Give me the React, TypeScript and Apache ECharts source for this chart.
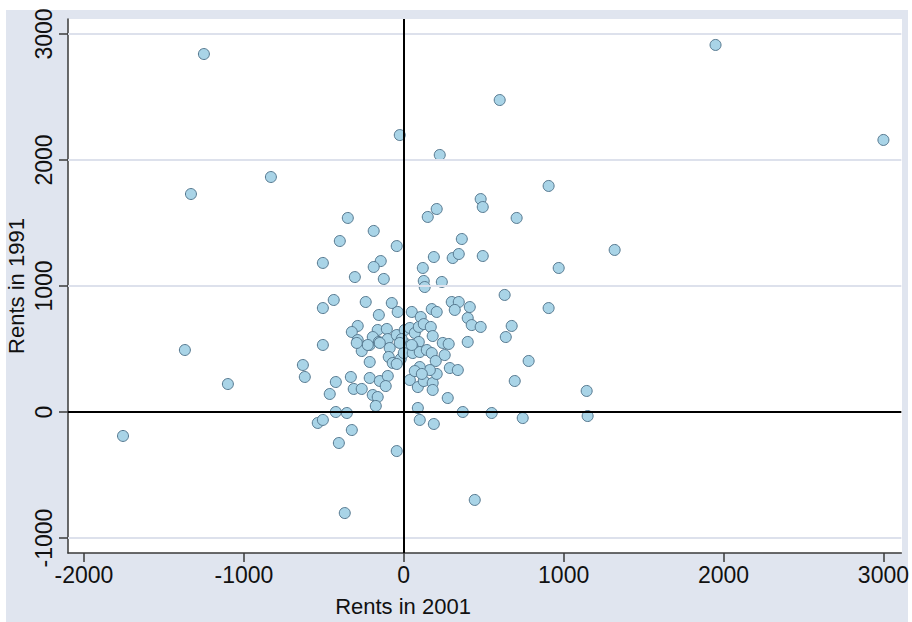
import React, { useEffect, useRef } from "react";
import * as echarts from "echarts";

// Rents in 2001 (x) and Rents in 1991 (y)
const rents2001 = [
  1950, 3000, -1250, 600, -25, 225, -1331, -831, 906, 481,
  494, 706, -350, 150, 206, -188, -400, 363, 1319, -44,
  188, 306, 344, 494, -506, -144, -188, 969, 119, -306,
  -125, 238, 125, 131, 631, -438, -506, -238, -75, 300,
  344, 413, 906, 319, -38, 50, 175, 206, 106, -156,
  400, 425, 481, 675, 638, 400, -1369, -1100, -1756, 444,
  -369, -44, -406, -325, -538, -506, -425, -356, 88, 100,
  188, 369, 550, 744, 1150, 1144, 694, 781, 275, -631,
  -619, -506, -425, -463, -331, -313, -263, -213, -150, -100,
  -113, -194, -163, -175, 38, 88, 125, 181, 181, 206,
  -288, -325, -288, -163, -106, -213, -194, -156, -100, -88,
  -44, 6, 38, 69, 94, 125, 169, 181, 244, 281,
  94, 56, 13, -13, -94, -69, -19, 0, 56, 100,
  144, 175, 200, 163, 100, 69, 113, 256, 288, 338,
  -263, -225, -294, -25, -213, -44, -150, 50,
];
const rents1991 = [
  2913, 2159, 2841, 2476, 2198, 2040, 1730, 1865, 1794, 1690,
  1627, 1540, 1540, 1548, 1611, 1437, 1357, 1373, 1286, 1317,
  1230, 1222, 1254, 1238, 1183, 1198, 1151, 1143, 1143, 1071,
  1056, 1032, 1040, 992, 929, 889, 825, 873, 865, 873,
  873, 833, 825, 810, 794, 794, 817, 794, 754, 770,
  746, 690, 675, 683, 595, 556, 492, 222, -190, -698,
  -802, -310, -246, -143, -87, -63, 0, -8, 32, -63,
  -95, 0, -8, -48, -32, 167, 246, 405, 111, 373,
  278, 532, 238, 143, 278, 183, 183, 270, 246, 286,
  206, 135, 119, 48, 254, 198, 246, 230, 175, 302,
  683, 635, 571, 651, 659, 532, 595, 556, 579, 508,
  611, 651, 667, 627, 675, 698, 675, 603, 548, 540,
  556, 516, 540, 579, 437, 389, 421, 468, 468, 476,
  492, 468, 405, 333, 357, 325, 302, 452, 349, 333,
  484, 532, 548, 548, 397, 381, 548, 532,
];

const xTicks = [-2000, -1000, 0, 1000, 2000, 3000];
const yTicks = [-1000, 0, 1000, 2000, 3000];
const yGridLines = [-1000, 1000, 2000, 3000];
const refLinesX = [0];
const refLinesY = [0];

const xTitle = "Rents in 2001";
const yTitle = "Rents in 1991";

const FONT = "'Liberation Sans', Arial, sans-serif";

export default function App() {
  const ref = useRef<HTMLDivElement>(null);

  useEffect(() => {
    if (!ref.current) return;
    const chart = echarts.init(ref.current, null, { renderer: "svg" });
    const points = rents2001.map((x, i) => [x, rents1991[i]]);
    const axisColor = "#3a3a3a";
    const plain = (v: number) => String(v);

    chart.setOption({
      animation: false,
      backgroundColor: "#ffffff",
      graphic: {
        elements: [
          {
            type: "rect",
            z: -20,
            shape: { x: 6, y: 10, width: 902, height: 612 },
            style: { fill: "#e0e5ef" },
            silent: true,
          },
          {
            type: "rect",
            z: -19,
            shape: { x: 68, y: 19, width: 834, height: 534 },
            style: { fill: "#ffffff" },
            silent: true,
          },
          {
            type: "text",
            x: 403,
            y: 606,
            style: {
              text: xTitle,
              font: `22px ${FONT}`,
              fill: "#111",
              textAlign: "center",
              textVerticalAlign: "middle",
            },
          },
          {
            type: "text",
            x: 16,
            y: 286,
            rotation: Math.PI / 2,
            style: {
              text: yTitle,
              font: `22px ${FONT}`,
              fill: "#111",
              textAlign: "center",
              textVerticalAlign: "middle",
            },
          },
        ],
      },
      grid: { left: 68, right: 10, top: 19, bottom: 69, containLabel: false },
      xAxis: {
        type: "value",
        min: -2100,
        max: 3112,
        axisLine: { show: true, onZero: false, lineStyle: { color: axisColor, width: 1.5 } },
        axisTick: {
          show: true,
          length: 9,
          customValues: xTicks,
          lineStyle: { color: axisColor, width: 1.5 },
        },
        axisLabel: {
          customValues: xTicks,
          formatter: plain,
          fontSize: 23,
          fontFamily: FONT,
          color: "#111",
          margin: 10,
        },
        splitLine: { show: false },
      },
      yAxis: {
        type: "value",
        min: -1119,
        max: 3119,
        axisLine: { show: true, onZero: false, lineStyle: { color: axisColor, width: 1.5 } },
        axisTick: {
          show: true,
          length: 9,
          customValues: yTicks,
          lineStyle: { color: axisColor, width: 1.5 },
        },
        axisLabel: {
          customValues: yTicks,
          formatter: plain,
          rotate: 90,
          fontSize: 23,
          fontFamily: FONT,
          color: "#111",
          margin: 13,
        },
        splitLine: { show: false },
      },
      series: [
        {
          type: "scatter",
          data: [],
          z: 1,
          silent: true,
          markLine: {
            silent: true,
            symbol: ["none", "none"],
            label: { show: false },
            lineStyle: { color: "#dde1ec", width: 2, type: "solid" },
            data: yGridLines.map((v) => ({ yAxis: v })),
          },
        },
        {
          type: "scatter",
          z: 3,
          data: points,
          symbol: "circle",
          symbolSize: 11,
          itemStyle: {
            color: "#a9d4e7",
            borderColor: "#55788f",
            borderWidth: 1,
            opacity: 1,
          },
          markLine: {
            silent: true,
            symbol: ["none", "none"],
            label: { show: false },
            lineStyle: { color: "#000000", width: 2, type: "solid" },
            data: [
              ...refLinesY.map((v) => ({ yAxis: v })),
              ...refLinesX.map((v) => ({ xAxis: v })),
            ],
          },
        },
      ],
    });

    return () => chart.dispose();
  }, []);

  return (
    <div
      ref={ref}
      style={{ position: "absolute", left: 0, top: 0, width: 912, height: 622 }}
    />
  );
}
